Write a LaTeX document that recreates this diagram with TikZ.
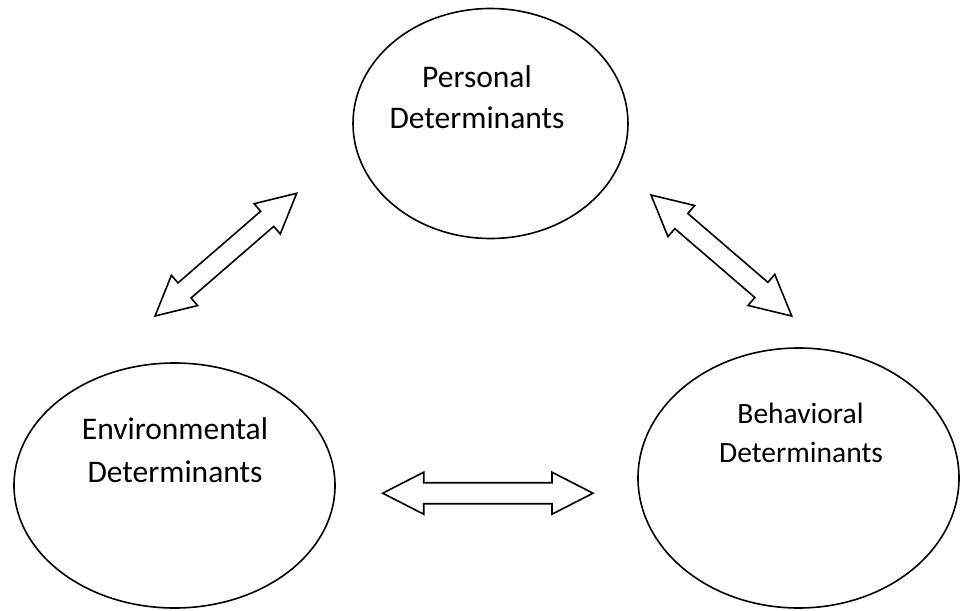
\documentclass[tikz,border=0pt]{standalone}
\usepackage{fontspec}
\setmainfont{Carlito}
\usetikzlibrary{shapes.geometric}
\newcommand\DArr[7]{% center x, center y, angle, half-length, head length, head half width, shaft half width
 \begin{scope}[shift={(#1,#2)},rotate=#3]
 \draw[arrowline] (-#4,0) -- (-#4+#5,#6) -- (-#4+#5,#7) -- (#4-#5,#7) -- (#4-#5,#6) -- (#4,0)
   -- (#4-#5,-#6) -- (#4-#5,-#7) -- (-#4+#5,-#7) -- (-#4+#5,-#6) -- cycle;
 \end{scope}}
\begin{document}
\begin{tikzpicture}[x=1pt,y=-1pt,
  bubble/.style={ellipse,draw=black,line width=1.6pt,inner sep=0pt,fill=none},
  arrowline/.style={draw=black,line width=1.6pt,line join=miter,fill=white},
  bigtext/.style={anchor=base,inner sep=0pt,font=\fontsize{31.5}{38}\selectfont},
  smalltext/.style={anchor=base,inner sep=0pt,font=\fontsize{29.5}{36}\selectfont}]
\useasboundingbox (0,0) rectangle (960,610);
\node[bubble,minimum width=275pt,minimum height=230pt] (pers) at (490.5,123.5) {};
\node[bubble,minimum width=321pt,minimum height=245pt] (env) at (174.5,485.5) {};
\node[bubble,minimum width=321pt,minimum height=260pt] (beh) at (798.5,478) {};
\node[bigtext] (pers1) at (477,87) {Personal};
\node[bigtext] (pers2) at (477,128) {Determinants};
\node[bigtext] (env1) at (175,439.5) {Environmental};
\node[bigtext] (env2) at (175,482) {Determinants};
\node[smalltext] (beh1) at (800.5,423) {Behavioral};
\node[smalltext] (beh2) at (801,462.5) {Determinants};
\DArr{225.85}{254.65}{40.9}{93.7}{39}{20}{10}
\DArr{721.35}{255.5}{-40.7}{92.8}{40}{20.5}{10}
\DArr{487.85}{493.2}{0}{105.15}{41}{21}{10.5}
\end{tikzpicture}
\end{document}
